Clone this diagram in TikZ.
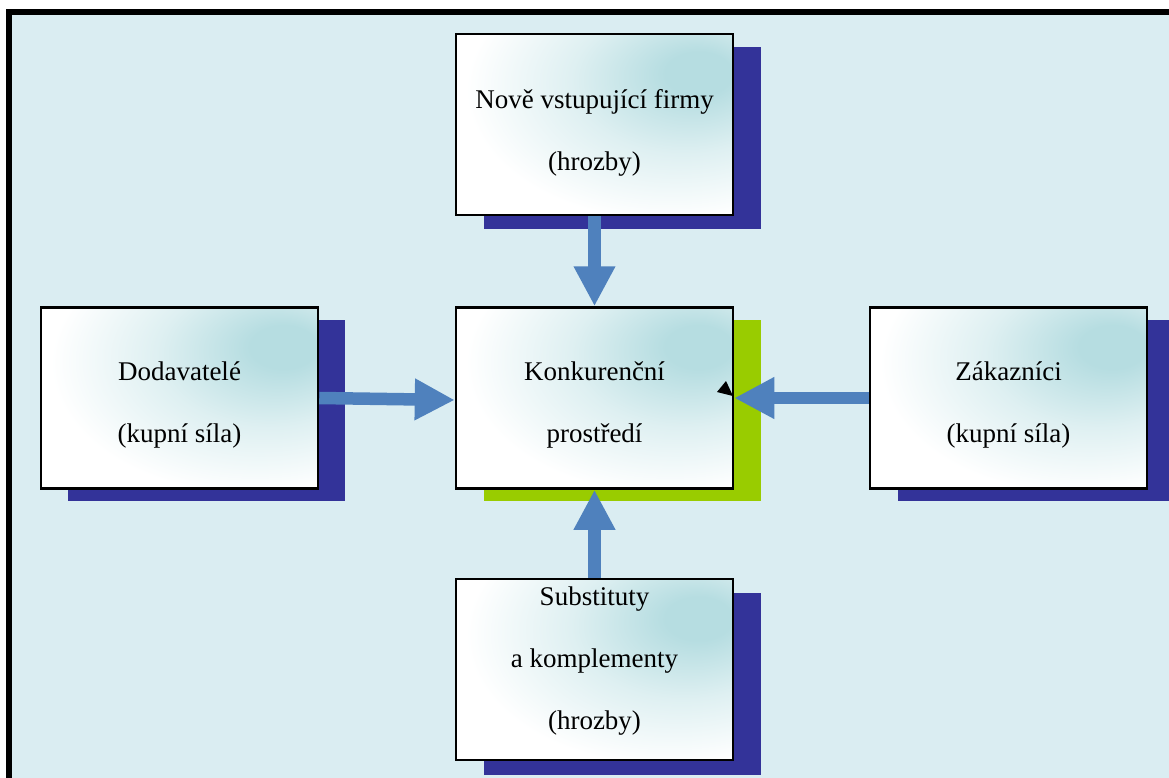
\documentclass[tikz,border=0pt]{standalone}
\usepackage{fontspec}
\setmainfont{Liberation Serif}
\usetikzlibrary{arrows.meta}
\definecolor{bgblue}{HTML}{DAEDF2}
\definecolor{navy}{HTML}{333399}
\definecolor{lime}{HTML}{99CC00}
\definecolor{arrowblue}{HTML}{4F81BD}
\definecolor{boxteal}{HTML}{B6DDE1}
\pgfdeclareradialshading{tealglow}{\pgfpoint{20bp}{15bp}}{%
  color(0bp)=(boxteal); color(6bp)=(boxteal);
  color(20bp)=(white!55!boxteal); color(36bp)=(white); color(100bp)=(white)}
\begin{document}
\begin{tikzpicture}
  [x=1pt,y=-1pt,
   forcebox/.style={draw, line width=2.5pt, minimum width=277pt, minimum height=181pt,
     inner sep=0pt, shade, shading=tealglow},
   forcetext/.style={align=center, inner sep=0pt, font=\fontsize{27}{62}\selectfont},
   pusharrow/.style={draw=arrowblue, line width=12.5pt, -{Triangle[length=40pt,width=39pt]}}]
  \useasboundingbox (0,0) rectangle (1169,778);
  \clip (0,0) rectangle (1169,778);
  % frame
  \draw[line width=6pt, fill=bgblue] (9,12) rectangle (1200,810);
  % shadows
  \fill[navy] (484,47) rectangle (761,229);
  \fill[navy] (68,320) rectangle (345,501);
  \fill[lime] (484,320) rectangle (761,501);
  \fill[navy] (898,320) rectangle (1175,501);
  \fill[navy] (484,593) rectangle (761,775);
  % boxes
  \node (entrants)[forcebox] at (594.5,124.5) {};
  \node (suppliers)[forcebox] at (179.5,398) {};
  \node (rivalry)[forcebox] at (594.5,398) {};
  \node (buyers)[forcebox] at (1008.5,398) {};
  \node (substitutes)[forcebox] at (594.5,669.5) {};
  % texts
  \node (entrants-t)[forcetext] at (594.5,133) {Nově vstupující firmy\\(hrozby)};
  \node (suppliers-t)[forcetext] at (179.5,405) {Dodavatelé\\(kupní síla)};
  \node (rivalry-t)[forcetext] at (594.5,405) {Konkurenční\\prostředí};
  \node (buyers-t)[forcetext] at (1008.5,405) {Zákazníci\\(kupní síla)};
  \node (substitutes-t)[forcetext] at (594.5,661) {Substituty\\a komplementy\\(hrozby)};
  % arrows
  \draw[pusharrow] (entrants.south) -- (rivalry.north);
  \draw[pusharrow] (substitutes.north) -- (rivalry.south);
  \draw[pusharrow] (suppliers.east) -- ([yshift=-2pt]rivalry.west);
  \draw[pusharrow] (buyers.west) -- (rivalry.east);
  \fill (733,396) -- (717,392) -- (726,381) -- cycle;
\end{tikzpicture}
\end{document}
